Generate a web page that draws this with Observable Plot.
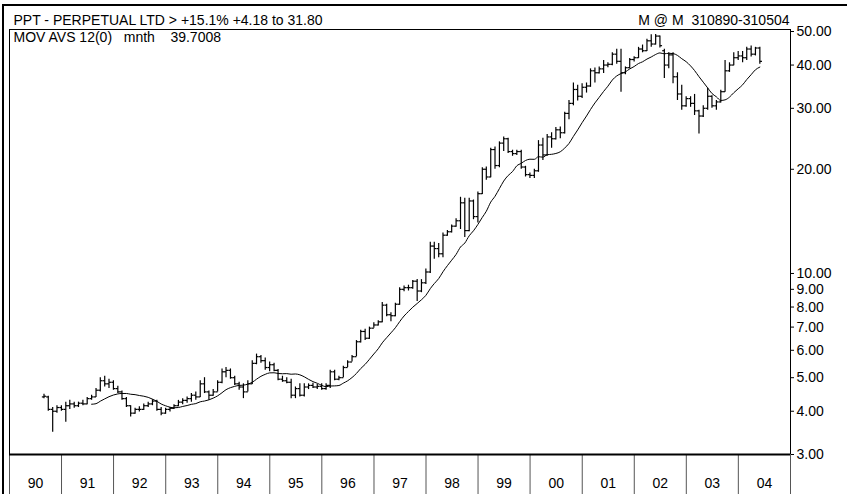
<!DOCTYPE html>
<html><head><meta charset="utf-8">
<script src="https://cdn.jsdelivr.net/npm/d3@7"></script>
<script src="https://cdn.jsdelivr.net/npm/@observablehq/plot@0.6"></script>
<style>
html,body{margin:0;padding:0;background:#fff;}
#wrap{position:relative;width:847px;height:494px;overflow:hidden;}
#wrap .border{position:absolute;left:2px;top:4px;right:0;bottom:0;border-top:2px solid #000;border-left:2px solid #000;pointer-events:none;}
</style></head><body><div id="wrap"><div class="border"></div></div>
<script>
// Monthly bars, 31 Aug 1990 .. 31 May 2004
const titleText = "PPT - PERPETUAL LTD > +15.1% +4.18 to 31.80";
const maText = "MOV AVS 12(0)\u00a0\u00a0\u00a0mnth\u00a0\u00a0\u00a0\u00a039.7008";
const rangeText = "M @ M\u00a0\u00a0310890-310504";
const firstMonth = [1990, 7]; // August 1990 (0-based month)
const open = [
  4.40,4.40,4.05,4.00,4.10,
  4.05,4.15,4.20,4.15,4.22,4.20,4.35,4.40,4.60,4.90,4.80,4.85,
  4.65,4.55,4.35,4.15,3.95,4.05,4.05,4.15,4.20,4.28,4.05,3.95,
  4.05,4.08,4.15,4.25,4.30,4.35,4.45,4.40,4.80,4.55,4.45,4.55,
  4.85,5.20,5.25,5.00,4.80,4.70,4.55,4.80,5.50,5.75,5.60,5.35,
  5.45,5.25,4.95,4.90,4.85,4.45,4.65,4.45,4.70,4.75,4.70,4.72,
  4.65,4.75,5.20,4.95,5.00,5.35,5.55,5.75,6.35,6.80,6.50,6.95,
  7.10,7.25,8.10,7.60,7.55,8.15,9.00,9.10,9.10,9.50,8.90,9.40,
  10.10,12.00,11.80,11.40,12.90,13.20,13.70,14.20,16.00,13.30,16.20,14.60,
  17.0,20.0,19.0,22.8,20.5,23.8,24.5,22.5,22.2,22.5,20.3,19.3,
  19.2,19.8,23.5,22.0,24.8,24.5,26.0,25.5,29.0,31.0,34.0,32.5,
  34.5,34.8,38.5,38.0,39.0,40.0,40.2,43.0,41.0,38.0,39.3,41.5,
  42.0,44.5,44.0,47.0,46.0,48.5,44.0,40.0,42.8,37.0,33.0,30.5,
  32.0,31.0,29.5,28.5,30.0,32.5,30.5,31.3,33.5,38.5,40.0,42.0,
  42.5,42.0,44.5,43.0,44.8
];
const high = [
  4.48,4.42,4.10,4.15,4.15,
  4.25,4.30,4.25,4.25,4.30,4.38,4.45,4.65,5.00,5.05,4.95,4.90,
  4.72,4.58,4.38,4.15,4.08,4.12,4.20,4.25,4.32,4.30,4.10,4.08,
  4.10,4.18,4.30,4.35,4.40,4.50,4.55,4.90,5.00,4.58,4.62,4.90,
  5.30,5.35,5.30,5.05,4.85,4.80,4.90,5.60,5.85,5.80,5.70,5.55,
  5.50,5.28,5.05,5.00,4.95,4.70,4.80,4.80,4.80,4.82,4.78,4.80,
  4.80,5.25,5.25,5.05,5.40,5.60,5.80,6.40,6.85,6.90,7.00,7.20,
  7.30,8.25,8.15,7.70,8.20,9.10,9.20,9.25,9.55,9.60,9.60,10.30,
  12.30,12.30,12.20,13.10,13.30,13.80,14.40,16.60,16.50,16.50,16.30,17.20,
  20.2,20.3,23.0,23.2,24.0,24.8,24.6,22.7,22.7,22.7,20.4,19.5,
  20.0,24.2,24.6,25.2,25.5,26.4,26.5,29.2,31.6,35.5,35.0,35.3,
  35.5,39.0,39.2,39.5,41.2,40.6,43.4,44.4,44.4,39.5,41.8,42.3,
  45.0,45.7,47.5,48.9,49.0,48.5,44.4,43.4,43.4,38.0,35.0,32.4,
  32.4,32.9,29.6,30.5,34.3,32.6,31.6,33.8,41.2,40.6,43.4,43.8,
  43.8,45.0,45.4,45.0,45.0
];
const low = [
  4.35,4.00,3.48,3.95,4.00,
  3.72,4.05,4.08,4.10,4.15,4.18,4.30,4.38,4.55,4.70,4.65,4.60,
  4.50,4.30,4.10,3.85,3.92,3.98,4.02,4.10,4.15,4.00,3.88,3.92,
  3.98,4.05,4.12,4.18,4.22,4.25,4.30,4.38,4.50,4.30,4.42,4.55,
  4.80,5.00,4.95,4.75,4.60,4.35,4.55,4.78,5.45,5.50,5.25,5.20,
  5.20,4.90,4.85,4.80,4.35,4.35,4.40,4.40,4.62,4.65,4.62,4.60,
  4.60,4.65,4.90,4.90,5.00,5.35,5.55,5.75,6.30,6.40,6.45,6.95,
  7.05,7.20,7.50,7.25,7.50,8.10,8.85,8.90,9.00,8.30,8.80,9.30,
  10.00,11.00,11.10,11.10,12.80,13.10,13.60,13.40,12.70,13.20,14.30,14.00,
  16.9,18.6,18.9,20.0,20.2,22.5,22.2,21.8,21.9,20.0,19.0,18.8,
  18.8,19.6,21.2,21.8,23.0,24.3,24.5,25.3,27.8,30.5,31.5,32.0,
  33.2,34.5,35.5,37.7,37.8,39.3,39.8,40.2,33.4,37.5,39.0,40.8,
  41.8,43.4,43.8,45.0,45.7,44.8,36.6,39.0,35.3,31.6,29.6,30.2,
  30.2,28.6,25.3,28.2,29.6,30.0,29.6,31.1,33.4,38.1,39.8,41.2,
  40.6,41.2,42.2,42.5,40.2
];
const close = [
  4.42,4.05,4.00,4.10,4.05,
  4.15,4.20,4.15,4.22,4.20,4.35,4.40,4.60,4.90,4.80,4.85,4.65,
  4.55,4.35,4.15,3.95,4.05,4.05,4.15,4.20,4.28,4.05,3.95,4.05,
  4.08,4.15,4.25,4.30,4.35,4.45,4.40,4.80,4.55,4.45,4.55,4.85,
  5.20,5.25,5.00,4.80,4.70,4.55,4.80,5.50,5.75,5.60,5.35,5.45,
  5.25,4.95,4.90,4.85,4.45,4.65,4.45,4.70,4.75,4.70,4.72,4.65,
  4.75,5.20,4.95,5.00,5.35,5.55,5.75,6.35,6.80,6.50,6.95,7.10,
  7.25,8.10,7.60,7.55,8.15,9.00,9.10,9.10,9.50,8.90,9.40,10.10,
  12.00,11.80,11.40,12.90,13.20,13.70,14.20,16.00,13.30,16.20,14.60,17.00,
  20.0,19.0,22.8,20.5,23.8,24.5,22.5,22.2,22.5,20.3,19.3,19.2,
  19.8,23.5,22.0,24.8,24.5,26.0,25.5,29.0,31.0,34.0,32.5,34.5,
  34.8,38.5,38.0,39.0,40.0,40.2,43.0,41.0,38.0,39.3,41.5,42.0,
  44.5,44.0,47.0,46.0,48.5,45.5,40.0,42.8,37.0,33.0,30.5,32.0,
  31.0,29.5,28.5,30.0,32.5,30.5,31.3,33.5,38.5,40.0,42.0,42.5,
  42.0,44.5,43.0,44.8,41.0
];
const yearLabels = ["90","91","92","93","94","95","96","97","98","99","00","01","02","03","04"];
const firstYear = 1990;
const yTicks = [3, 4, 5, 6, 7, 8, 9, 10, 20, 30, 40, 50];

const start = new Date(Date.UTC(firstMonth[0], firstMonth[1], 1));
const data = close.map((c, i) => {
  const end = d3.utcDay.offset(d3.utcMonth.offset(start, i + 1), -1);
  return {
    date: end,
    before: d3.utcDay.offset(end, -15),
    after: d3.utcDay.offset(end, 15),
    open: open[i], high: high[i], low: low[i], close: c
  };
});
const yearStarts = d3.range(yearLabels.length + 1).map(k => new Date(Date.UTC(firstYear + k, 0, 1)));
const yearMids = yearLabels.map((s, k) => new Date(Date.UTC(firstYear + k, 6, 2)));

const chart = Plot.plot({
  width: 847, height: 494,
  marginLeft: 9, marginRight: 57, marginTop: 29, marginBottom: 40,
  style: {fontFamily: "'Liberation Sans', Arial, sans-serif", fontSize: "14px", background: "transparent", color: "black"},
  x: {type: "utc", domain: [yearStarts[0], yearStarts[yearStarts.length - 1]], axis: null},
  y: {type: "log", domain: [3, 50.67], axis: null},
  marks: [
    Plot.frame({stroke: "black", strokeWidth: 1}),
    Plot.axisX(yearStarts, {anchor: "bottom", tickSize: 40, tickFormat: () => "", stroke: "#555", strokeWidth: 1}),
    Plot.ruleY([3], {stroke: "black", strokeWidth: 2}),
    Plot.axisY(yTicks, {anchor: "right", tickSize: 3, tickPadding: 3, tickFormat: d3.format(".2f"), fontSize: 14, stroke: "black", fill: "black"}),
    Plot.text(yearMids, {x: d => d, text: (d, i) => yearLabels[i], frameAnchor: "bottom", lineAnchor: "middle", dy: 29.5, fontSize: 14, fill: "black"}),
    Plot.ruleX(data, {x: "date", y1: "low", y2: "high", stroke: "black", strokeWidth: 1.2}),
    Plot.link(data, {x1: "before", x2: "date", y1: "open", y2: "open", stroke: "black", strokeWidth: 1.2}),
    Plot.link(data, {x1: "date", x2: "after", y1: "close", y2: "close", stroke: "black", strokeWidth: 1.2}),
    Plot.lineY(data, Plot.windowY({k: 12, anchor: "end", strict: true}, {x: "date", y: "close", curve: "monotone-x", stroke: "black", strokeWidth: 1})),
    Plot.text([titleText], {frameAnchor: "top-left", textAnchor: "start", lineAnchor: "top", dx: 4, dy: -14, fontSize: 14, fill: "black"}),
    Plot.text([maText], {frameAnchor: "top-left", textAnchor: "start", lineAnchor: "top", dx: 4, dy: 3, fontSize: 14, fill: "black"}),
    Plot.text([rangeText], {frameAnchor: "top-right", textAnchor: "end", lineAnchor: "top", dx: -1, dy: -14, fontSize: 14, fill: "black"})
  ]
});
document.getElementById("wrap").prepend(chart);
</script></body></html>
